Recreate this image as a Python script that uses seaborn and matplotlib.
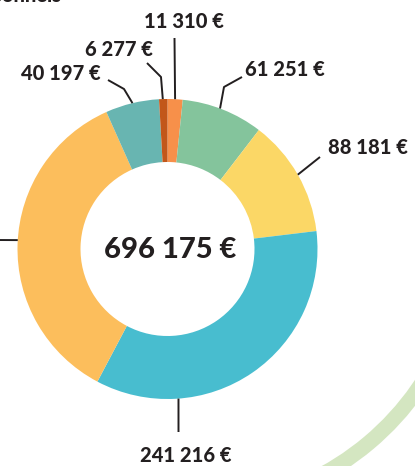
import numpy as np
import matplotlib
matplotlib.use("Agg")
import matplotlib.pyplot as plt
from matplotlib.patches import Arc
import seaborn as sns

# ---- data ----
labels = ["11 310 €", "61 251 €", "88 181 €", "241 216 €", "247 743 €", "40 197 €", "6 277 €"]
values = [11310, 61251, 88181, 241216, 247743, 40197, 6277]
colors = ["#F7904A", "#84C49C", "#FBD766", "#48BDCF", "#FCBE5C", "#68B5B1", "#C2571A"]
total_label = "696 175 €"
title_fragment = "personnels"

sns.set_theme(style="white")
plt.rcParams['font.family'] = ['Lato', 'DejaVu Sans']

W, H = 415, 466
fig = plt.figure(figsize=(W / 100, H / 100), dpi=100)
ax = fig.add_axes([0, 0, 1, 1])

def py(y):  # pixel-from-top -> data y
    return H - y

cx, cy, R = 167.5, py(249), 150
palette = sns.color_palette(colors)

ax.pie(values, colors=palette, startangle=90, counterclock=False,
       radius=R, center=(cx, cy),
       wedgeprops=dict(width=R * 0.42, edgecolor='none', linewidth=0))

# decorative arc (bottom right)
ax.add_patch(Arc((190, py(230)), 2 * 278, 2 * 278, theta1=-80, theta2=-20,
                 color="#D4E6C1", lw=11))

# leader/label layout (anchor angle on ring, elbow, end, text pos, ha)
layout = {
    "11 310 €": dict(ang=87.1, pts=[(174.5, 38)], txt=(184, 22), ha="center"),
    "6 277 €": dict(ang=91.8, pts=[(161, 77), (147, 63)], txt=(153, 50), ha="right"),
    "40 197 €": dict(ang=103.5, pts=[(124, 89), (108, 80)], txt=(101, 73), ha="right"),
    "61 251 €": dict(ang=69.5, pts=[(224, 87), (242, 77)], txt=(245, 70), ha="left"),
    "88 181 €": dict(ang=29.7, pts=[(320, 157)], txt=(328, 148), ha="left"),
    "241 216 €": dict(ang=-85.8, pts=[(178.5, 432)], txt=(186, 456), ha="center"),
    "247 743 €": dict(ang=176.6, pts=[(-5, 240)], txt=(-10, 240), ha="right"),
}
ink = "#231F20"
for lab in labels:
    L = layout[lab]
    a = np.deg2rad(L["ang"])
    xs = [cx + R * np.cos(a)] + [p[0] for p in L["pts"]]
    ys = [cy + R * np.sin(a)] + [py(p[1]) for p in L["pts"]]
    ax.plot(xs, ys, color=ink, lw=1.4, solid_capstyle="butt", clip_on=False)
    ax.text(L["txt"][0], py(L["txt"][1]), lab, ha=L["ha"], va="center",
            fontsize=14.5, fontweight="black", color=ink)

ax.text(170, py(250), total_label, ha="center", va="center",
        fontsize=21, fontweight="black", color=ink)

ax.text(62, py(2), title_fragment, ha="right", va="baseline",
        fontsize=14.5, fontweight="black", color=ink)

ax.set_xlim(0, W)
ax.set_ylim(0, H)
ax.set_aspect("equal")
ax.axis("off")
fig.savefig("out.png", dpi=100)
